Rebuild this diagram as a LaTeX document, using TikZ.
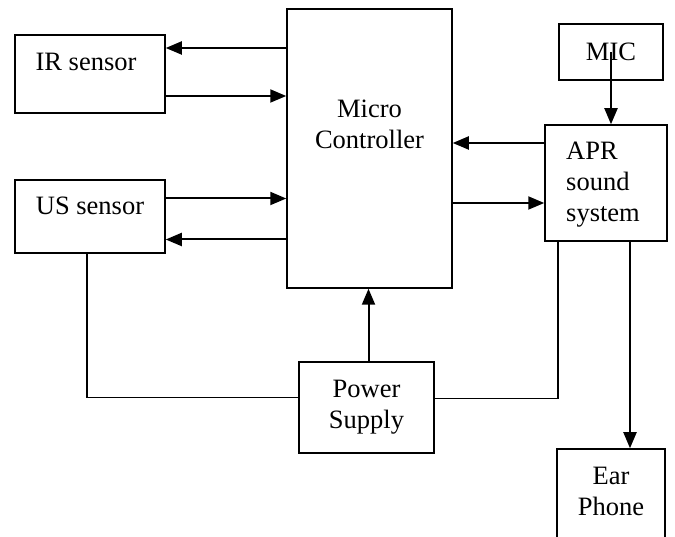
\documentclass[tikz,border=0pt]{standalone}
\usepackage{fontspec}
\setmainfont{Liberation Serif}
\usetikzlibrary{arrows.meta, positioning}

\begin{document}
\begin{tikzpicture}[x=1pt, y=1pt, font=\fontsize{26.5}{31}\selectfont,
                        block/.style = {draw, rectangle, line width=1.5pt, inner sep=0pt},
                        txt/.style = {inner sep=0pt},
                        arr/.style = {-{Triangle[length=16pt, width=13pt]}, line width=2pt},
                        wire/.style = {line width=1.6pt}]
        \clip (0,0) rectangle (675,537);
        \node[block, minimum width=150pt, minimum height=78pt] (ir) at (90,463) {};
        \node[block, minimum width=150pt, minimum height=73pt] (us) at (90,320.5) {};
        \node[block, minimum width=165pt, minimum height=279pt] (mc) at (369.5,388.5) {};
        \node[block, minimum width=104pt, minimum height=56pt] (mic) at (611,485) {MIC};
        \node[block, minimum width=122pt, minimum height=116pt] (apr) at (606,354) {};
        \node[block, minimum width=135pt, minimum height=91pt, align=center] (ps) at (366.5,129.5) {Power\\Supply};
        \node[block, minimum width=108pt, minimum height=118pt] (ear) at (611,29) {};

        \node[txt, anchor=base] (irtxt) at (86,466) {IR sensor};
        \node[txt, anchor=base] (ustxt) at (90,322) {US sensor};
        \node[txt, align=center] (mctxt) at (369.5,412.5) {Micro\\Controller};
        \node[txt, align=left, anchor=west] (aprtxt) at (566,352) {APR\\sound\\system};
        \node[txt, align=center] (eartxt) at (611,45.5) {Ear\\Phone};

        \draw[arr] ([yshift=26pt]ir.east -| mc.west) -- ([yshift=26pt]ir.east);
        \draw[arr] ([yshift=-22pt]ir.east) -- ([yshift=-22pt]ir.east -| mc.west);
        \draw[arr] ([yshift=18pt]us.east) -- ([yshift=18pt]us.east -| mc.west);
        \draw[arr] ([yshift=-23pt]us.east -| mc.west) -- ([yshift=-23pt]us.east);
        \draw[arr] ([yshift=40pt]apr.west) -- ([yshift=40pt]apr.west -| mc.east);
        \draw[arr] ([yshift=-20pt]apr.west -| mc.east) -- ([yshift=-20pt]apr.west);
        \draw[arr] (mic.center) -- (mic.center |- apr.north);
        \draw[arr] ([xshift=2pt]ps.north) -- ([xshift=2pt]ps.north |- mc.south);
        \draw[arr] ([xshift=24pt]apr.south) -- ([xshift=24pt]apr.south |- ear.north);

        \draw[wire] ([xshift=-3pt]us.south) |- ([yshift=10pt]ps.west);
        \draw[wire] ([yshift=9pt]ps.east) -| ([xshift=-48pt]apr.south);
    \end{tikzpicture}
\end{document}
